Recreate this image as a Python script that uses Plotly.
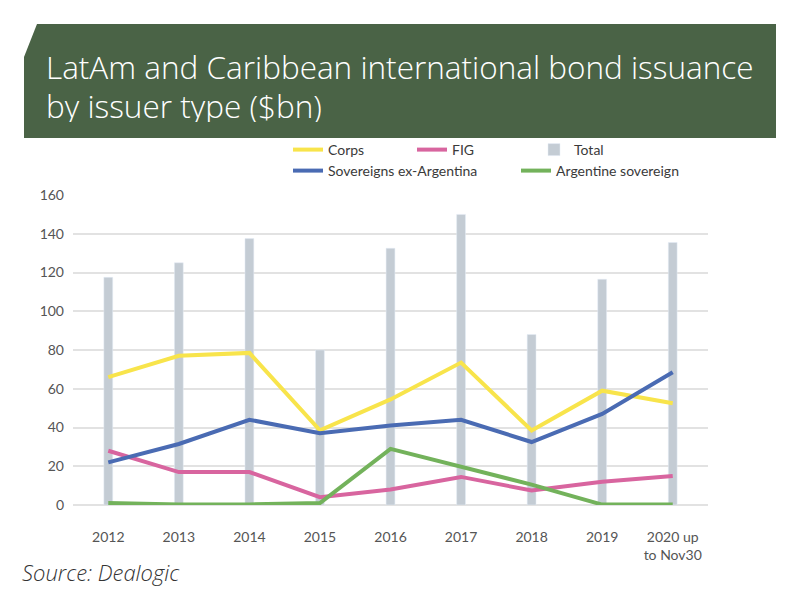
import plotly.graph_objects as go

years = ["2012", "2013", "2014", "2015", "2016", "2017", "2018", "2019", "2020 up<br>to Nov30"]
total = [117.5, 125, 137.5, 80, 132.5, 150, 88, 116.5, 135.5]
corps = [66, 77, 78.5, 38.5, 54.5, 73.5, 38.5, 59, 52.5]
fig_sector = [28, 17, 17, 4, 8, 14.5, 7.5, 12, 15]
sovereigns = [22, 31.5, 44, 37, 41, 44, 32.5, 47, 68.5]
argentine = [1, 0.3, 0.3, 1, 29, 20, 10.5, 0.2, 0.2]

title_lines = ["LatAm and Caribbean international bond issuance", "by issuer type ($bn)"]
source_text = "Source: Dealogic"

C_YELLOW = "#f8e44b"
C_PINK = "#d8659f"
C_BLUE = "#4a6bb3"
C_GREEN = "#73b25b"
C_GREY = "#c4ccd4"
C_BANNER = "#4a6346"

fig = go.Figure()
fig.add_trace(go.Bar(x=years, y=total, name="Total", marker_color=C_GREY,
                     width=0.125, legend="legend3"))
fig.add_trace(go.Scatter(x=years, y=corps, name="Corps", mode="lines",
                         line=dict(color=C_YELLOW, width=4), cliponaxis=False, legend="legend"))
fig.add_trace(go.Scatter(x=years, y=fig_sector, name="FIG", mode="lines",
                         line=dict(color=C_PINK, width=4), cliponaxis=False, legend="legend2"))
fig.add_trace(go.Scatter(x=years, y=sovereigns, name="Sovereigns ex-Argentina", mode="lines",
                         line=dict(color=C_BLUE, width=4), cliponaxis=False, legend="legend4"))
fig.add_trace(go.Scatter(x=years, y=argentine, name="Argentine sovereign", mode="lines",
                         line=dict(color=C_GREEN, width=4), cliponaxis=False, legend="legend5"))

# plot area: x 73..708, y 195..505
L, R, T, B = 73, 708, 195, 505
W, H = R - L, B - T
def px(x):
    return (x - L) / W
def py(y):
    return (B - y) / H

legend_font = dict(family="Lato", size=14, color="#3a3a3a")
def leg(x, y):
    return dict(orientation="h", x=px(x), xanchor="left", y=py(y), yanchor="middle",
                font=legend_font, bgcolor="rgba(0,0,0,0)", borderwidth=0)

fig.update_layout(
    width=800, height=598,
    margin=dict(l=L, r=800 - R, t=T, b=598 - B, autoexpand=False),
    paper_bgcolor="white", plot_bgcolor="white",
    showlegend=True,
    legend=leg(288, 150),
    legend2=leg(412, 150),
    legend3=leg(534, 150),
    legend4=leg(288, 171),
    legend5=leg(516, 171),
    xaxis=dict(showgrid=False, showline=False, ticks="", ticklabelstandoff=22,
               tickfont=dict(family="Lato", size=14, color="#555555")),
    yaxis=dict(range=[0, 160], dtick=20, showgrid=True, gridcolor="#e2e2e2", gridwidth=1.5,
               zeroline=True, zerolinecolor="#e2e2e2", zerolinewidth=1.5,
               showline=False, ticks="", ticklabelstandoff=8,
               tickfont=dict(family="Lato", size=14, color="#555555")),
    font=dict(family="Lato"),
)

# banner
x0, x1, xs = px(24), px(776), px(37)
y0, y1, ys = py(138), py(24), py(57)
fig.add_shape(type="path", xref="paper", yref="paper",
              path=f"M {x0} {y0} L {x1} {y0} L {x1} {y1} L {xs} {y1} L {x0} {ys} Z",
              fillcolor=C_BANNER, line=dict(width=0), layer="below")
for line_text, yc in zip(title_lines, [66, 105]):
    fig.add_annotation(text=line_text, xref="paper", yref="paper", x=px(44), y=py(yc),
                       xanchor="left", yanchor="middle", showarrow=False, align="left",
                       height=34, valign="middle",
                       font=dict(family="Open Sans", size=31.5, color="white", weight=300))
fig.add_annotation(text="<i>" + source_text + "</i>", xref="paper", yref="paper",
                   x=px(20), y=py(572), xanchor="left", yanchor="middle", showarrow=False,
                   font=dict(family="Open Sans", size=22, color="#333333", weight=300))

fig.write_html("out.html", config={"displayModeBar": False},
               post_script="document.body.style.margin='0';document.body.style.overflow='hidden';")
